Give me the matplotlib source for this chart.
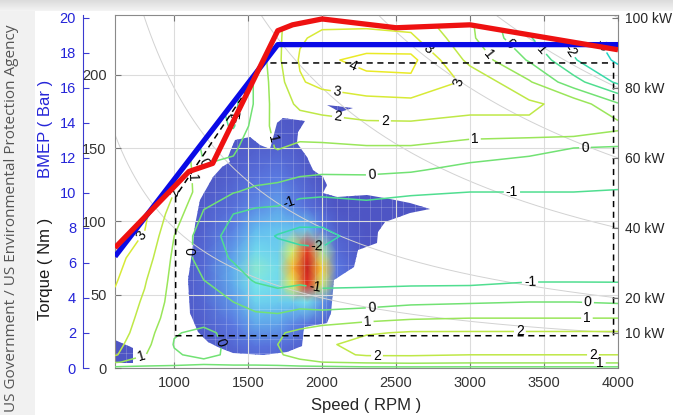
import numpy as np
import matplotlib.pyplot as plt
from matplotlib.patches import Rectangle
from matplotlib.path import Path
from matplotlib.colors import LinearSegmentedColormap

plt.rcParams['font.family'] = ['Liberation Sans', 'DejaVu Sans']

# full load curves (speed RPM, torque Nm)
red_rpm = [600, 1100, 1260, 1700, 1800, 2000, 2500, 3000, 4000]
red_nm = [82, 134, 139.5, 230, 234, 238, 232, 234, 217]
blue_rpm = [600, 1700, 4000]
blue_nm = [76, 220.5, 220.5]

# dashed operating region
box_rpm = [1010, 1010, 3970, 3970, 1614, 1010]
box_nm = [117, 22, 22, 208, 208, 117]

# constant power lines / right axis (kW at 4000 rpm)
power_kw = [10, 20, 40, 60, 80, 100]
displacement_l = 1.5

# contour map grid
map_rpm = [600, 800, 1000, 1200, 1400, 1550, 1700, 1850, 2000, 2300, 2600, 3000, 3400, 3700, 4000]
map_nm = [0, 4, 9, 16, 24, 34, 45, 60, 75, 90, 105, 120, 135, 150, 165, 180, 195, 210, 225, 242]
map_val = [
    [-0.3, -0.3, -0.3, -0.3, -0.3, -0.3, -0.4, -0.4, -0.4, -0.3, -0.3, -0.3, -0.3, -0.3, -0.3],
    [1.1, 0.6, 0.4, 0.2, 0.3, 0.3, 0.5, 0.8, 1.0, 1.2, 1.3, 1.2, 1.2, 1.2, 1.2],
    [2.1, 1.05, 0.1, -0.25, 0.2, 0.5, 0.9, 1.3, 1.7, 2.1, 2.1, 2.0, 2.0, 2.0, 2.0],
    [2.3, 1.3, -0.05, -0.3, 0.2, 0.6, 1.0, 1.5, 1.8, 2.4, 2.5, 2.5, 2.5, 2.5, 2.5],
    [2.5, 1.5, 0.05, -0.15, 0.2, 0.5, 0.9, 1.2, 1.5, 1.9, 2.1, 2.1, 2.1, 2.1, 2.1],
    [2.6, 1.7, 0.4, 0.25, 0.2, 0.2, 0.2, 0.4, 0.5, 0.7, 0.9, 1.0, 1.0, 1.0, 1.0],
    [2.8, 1.85, 0.6, 0.3, 0.0, -0.3, -0.5, -0.3, -0.5, -0.4, -0.2, -0.1, 0.0, 0.0, -0.1],
    [3.1, 2.1, 0.7, 0.0, -0.6, -1.1, -1.3, -1.2, -1.3, -1.3, -1.3, -1.3, -1.1, -1.1, -1.1],
    [3.3, 2.5, 0.8, -0.5, -1.1, -1.4, -1.6, -1.7, -1.8, -1.6, -1.6, -1.5, -1.3, -1.3, -1.3],
    [3.4, 2.95, 1.0, -0.6, -1.3, -1.7, -2.05, -2.2, -2.2, -1.7, -1.7, -1.5, -1.4, -1.4, -1.4],
    [3.5, 3.2, 1.5, -0.1, -1.0, -1.3, -1.4, -1.7, -1.7, -1.5, -1.5, -1.4, -1.3, -1.3, -1.3],
    [3.5, 3.3, 2.0, 0.4, 0.05, -0.2, -0.3, -0.7, -0.8, -0.7, -0.9, -1.0, -1.0, -1.0, -1.05],
    [3.5, 3.3, 2.3, 0.1, 0.35, 0.5, 0.4, 0.3, 0.2, 0.2, 0.1, -0.3, -0.5, -0.5, -0.6],
    [3.5, 3.3, 2.4, -0.3, -0.2, 0.7, 1.05, 0.8, 0.8, 0.9, 0.9, 0.6, 0.3, 0.0, -0.1],
    [3.5, 3.3, 2.4, -0.5, -1.1, 0.5, 1.3, 1.5, 1.6, 1.8, 1.8, 1.6, 1.8, 1.9, 1.3],
    [3.5, 3.3, 2.4, -0.5, -1.3, 0.15, 1.5, 2.2, 2.4, 2.6, 2.7, 2.4, 2.2, 1.6, 0.1],
    [3.5, 3.3, 2.4, -0.5, -1.3, 0.15, 1.6, 2.9, 3.3, 3.7, 3.8, 2.8, 1.1, -0.6, -2.2],
    [3.5, 3.3, 2.4, -0.5, -1.3, 0.2, 1.8, 3.1, 3.8, 4.3, 4.3, 1.7, -0.1, -1.9, -3.2],
    [3.5, 3.3, 2.4, -0.5, -1.3, 0.3, 1.8, 2.9, 3.2, 3.3, 3.2, 1.2, -0.9, -2.4, -3.5],
    [3.5, 3.3, 2.4, -0.5, -1.3, 0.3, 1.8, 2.6, 2.6, 2.5, 2.3, 1.1, -1.3, -2.7, -3.7],
]
map_levels = [-3, -2, -1, 0, 1, 2, 3, 4]
level_colors = ['#22d4c4', '#38daa8', '#50de90', '#72e274', '#9ae65a', '#bfe847', '#d8ea36', '#eaea26']
label_spots = [(2175, 198), (2100, 190), (2932, 192), (2107, 171), (2425, 171), (2729, 219),
               (3081, 210), (3283, 222), (3486, 219), (3655, 215), (3912, 221), (3033, 157),
               (3777, 151), (3283, 121), (2337, 130), (1783, 110), (1972, 89), (1938, 48),
               (2337, 38), (2310, 29), (2371, 9), (3405, 56), (3797, 44), (3790, 31),
               (3337, 24.5), (3831, 7), (3878, 2.5), (1323, 18), (1073, 80), (782, 7),
               (823, 87), (1614, 155), (1465, 171), (1188, 140), (1120, 130), (1005, 120)]

# heat map (0..1) and its outline
heat_rpm = [600, 1000, 1200, 1400, 1550, 1700, 1800, 1900, 2000, 2100, 2300, 2800]
heat_nm = [0, 15, 30, 45, 57, 68, 80, 95, 110, 130, 150, 180]
heat_val = [
    [.00, .00, .00, .02, .04, .04, .02, .00, .00, .00, .00, .00],
    [.00, .00, .03, .08, .13, .12, .08, .05, .02, .00, .00, .00],
    [.00, .00, .05, .15, .25, .24, .18, .13, .07, .02, .00, .00],
    [.00, .00, .08, .22, .36, .34, .34, .40, .22, .05, .00, .00],
    [.00, .00, .09, .26, .42, .38, .62, .92, .56, .12, .00, .00],
    [.00, .00, .09, .27, .45, .39, .74, .99, .70, .15, .00, .00],
    [.00, .00, .08, .23, .38, .35, .58, .90, .50, .10, .00, .00],
    [.00, .00, .06, .17, .29, .32, .31, .32, .16, .05, .00, .00],
    [.00, .00, .04, .11, .19, .24, .18, .11, .05, .00, .00, .00],
    [.00, .00, .00, .06, .12, .16, .10, .05, .00, .00, .00, .00],
    [.00, .00, .00, .02, .05, .06, .04, .00, .00, .00, .00, .00],
    [.00, .00, .00, .00, .00, .00, .00, .00, .00, .00, .00, .00],
]
heat_stops = [0.0, 0.15, 0.3, 0.42, 0.55, 0.68, 0.8, 0.92, 1.0]
heat_colors = ['#4e55c4', '#5a78e1', '#64bef0', '#78e6eb', '#c8f078', '#fae63c', '#f58c28',
               '#e12d23', '#c81e1e']
blob_rpm = [1695, 1735, 1884, 1837, 1830, 1898, 1938, 2006, 2033, 2006, 2100, 2303, 2459, 2594,
            2729, 2594, 2425, 2378, 2371, 2242, 2215, 2080, 2060, 2033, 1877, 1864, 1763, 1600,
            1398, 1310, 1229, 1161, 1107, 1093, 1120, 1141, 1175, 1262, 1323, 1377, 1364, 1411,
            1512, 1580, 1648]
blob_nm = [167, 170.5, 168.5, 161, 153.5, 144, 135, 130, 125, 119.5, 116.5, 118, 115, 112.5,
           108.5, 105.5, 99.5, 92.5, 85, 80.5, 69, 60, 37.5, 30.5, 28, 15, 11, 9,
           10, 13.5, 17.5, 24.5, 37.5, 60, 78.5, 97.5, 114.5, 130, 137, 140.5, 144, 155.5,
           157.5, 152, 149]
low_patch_rpm = [600, 722, 722, 600]
low_patch_nm = [19, 13.5, 3.5, 3.5]
top_patch_rpm = [2033, 2209, 2121]
top_patch_nm = [179, 177, 174.5]

x_ticks = [1000, 1500, 2000, 2500, 3000, 3500, 4000]
torque_ticks = [0, 50, 100, 150, 200]
bmep_ticks = [0, 2, 4, 6, 8, 10, 12, 14, 16, 18, 20]

W, H = 673, 415
fig = plt.figure(figsize=(W / 100, H / 100), dpi=100)
fig.patch.set_facecolor('#f1f1f1')
fig.patches.append(Rectangle((35 / W, 0), 1, 1 - 11 / H, transform=fig.transFigure,
                             facecolor='white', edgecolor='none', zorder=-5))
bg = fig.add_axes([0, 1 - 11 / H, 1, 11 / H])
bg.imshow(np.linspace(0.86, 0.95, 11)[:, None], cmap='gray', vmin=0, vmax=1,
          aspect='auto', extent=[0, 1, 0, 1])
bg.axis('off')

fig.text(12 / W, 1 - 25 / H, 'US Government / US Environmental Protection Agency',
         rotation=90, ha='center', va='top', fontsize=11, color='#555555',
         family='Open Sans')

ax = fig.add_axes([115 / W, 47 / H, 503 / W, 353 / H])
t_top = 240.7
ax.set_xlim(600, 4000)
ax.set_ylim(0, t_top)
ax.set_facecolor('none')


def ring(xs, ys):
    return Path(np.column_stack([list(xs) + [xs[0]], list(ys) + [ys[0]]]), closed=True)


heat_cmap = LinearSegmentedColormap.from_list('heat', list(zip(heat_stops, heat_colors)))

blob_path = Path.make_compound_path(ring(blob_rpm, blob_nm),
                                    ring(low_patch_rpm, low_patch_nm),
                                    ring(top_patch_rpm, top_patch_nm))
hm = ax.pcolormesh(heat_rpm, heat_nm, np.array(heat_val), shading='gouraud', cmap=heat_cmap,
                   vmin=0, vmax=1, zorder=1, antialiased=False)
hm.set_clip_path(blob_path, ax.transData)
mv = ax.vlines(np.arange(600, 2800, 75), 0, 180, color='white', lw=0.6, alpha=0.22, zorder=1.1)
mh = ax.hlines(np.arange(0, 185, 10), 600, 2800, color='white', lw=0.6, alpha=0.22, zorder=1.1)
mv.set_clip_path(blob_path, ax.transData)
mh.set_clip_path(blob_path, ax.transData)

# constant power lines
rpm_f = np.linspace(600, 4000, 300)
for p in power_kw:
    ax.plot(rpm_f, p * 1000 / (rpm_f * np.pi / 30), color='#d2d2d2', lw=0.7, zorder=2.4)

# contour lines clipped to the full-load envelope
env = np.maximum(np.interp(rpm_f, red_rpm, red_nm), np.interp(rpm_f, blue_rpm, blue_nm))
clip_path = ring(np.r_[600, rpm_f, 4000], np.r_[0, env, 0])
cs = ax.contour(map_rpm, map_nm, np.array(map_val), levels=map_levels, colors=level_colors,
                linewidths=1.1, zorder=3)
cs.set_clip_path(clip_path, ax.transData)
ax.clabel(cs, fmt='%d', fontsize=10, colors='k', inline=True, inline_spacing=2,
          manual=label_spots)

ax.plot(box_rpm, box_nm, color='k', lw=1.1, ls=(0, (4, 3)), zorder=4)
ax.plot(blue_rpm, blue_nm, color='#0a0ae6', lw=3.8, zorder=5, solid_capstyle='butt')
ax.plot(red_rpm, red_nm, color='#ee1111', lw=3.8, zorder=6, solid_capstyle='butt')

ax.set_axisbelow(False)
ax.grid(True, color='#dcdcdc', lw=0.8, zorder=2.5)
ax.set_xticks(x_ticks)
ax.set_yticks(torque_ticks)
ax.tick_params(direction='in', length=4, labelsize=10.5, labelcolor='#333333',
               color='#777777', top=True, pad=6)
for s in ax.spines.values():
    s.set_color('#8a8a8a')
ax.set_xlabel('Speed ( RPM )', fontsize=12, color='#262626')
ax.xaxis.set_label_coords(0.5, -0.085)
ax.text(-0.123, 0.28, 'Torque ( Nm )', rotation=90, ha='right', va='center',
        fontsize=12, color='#1a1a1a', transform=ax.transAxes)
ax.text(-0.123, 0.677, 'BMEP ( Bar )', rotation=90, ha='right', va='center',
        fontsize=12, color='#2424d8', transform=ax.transAxes)

# right axis: power at 4000 rpm
axr = ax.twinx()
axr.set_ylim(0, t_top)
axr.set_yticks([p * 1000 / (4000 * np.pi / 30) for p in power_kw])
axr.set_yticklabels([f'{p} kW' for p in power_kw])
axr.tick_params(direction='in', length=4, labelsize=10, labelcolor='#262626',
                color='#777777', pad=5)
for s in axr.spines.values():
    s.set_visible(False)

# BMEP axis offset to the left
bmep_per_nm = 4 * np.pi / (displacement_l * 1e-3) / 1e5
axb = fig.add_axes(ax.get_position(), facecolor='none', zorder=-1)
axb.set_ylim(0, t_top * bmep_per_nm)
axb.set_yticks(bmep_ticks)
axb.xaxis.set_visible(False)
for k in ['top', 'right', 'bottom']:
    axb.spines[k].set_visible(False)
axb.spines['left'].set_position(('outward', 23))
axb.spines['left'].set_color('#3a3ad0')
axb.tick_params(direction='in', length=4, labelsize=10.5, labelcolor='#2424d8',
                color='#3a3ad0', pad=5)

fig.savefig('out.png', dpi=100)
